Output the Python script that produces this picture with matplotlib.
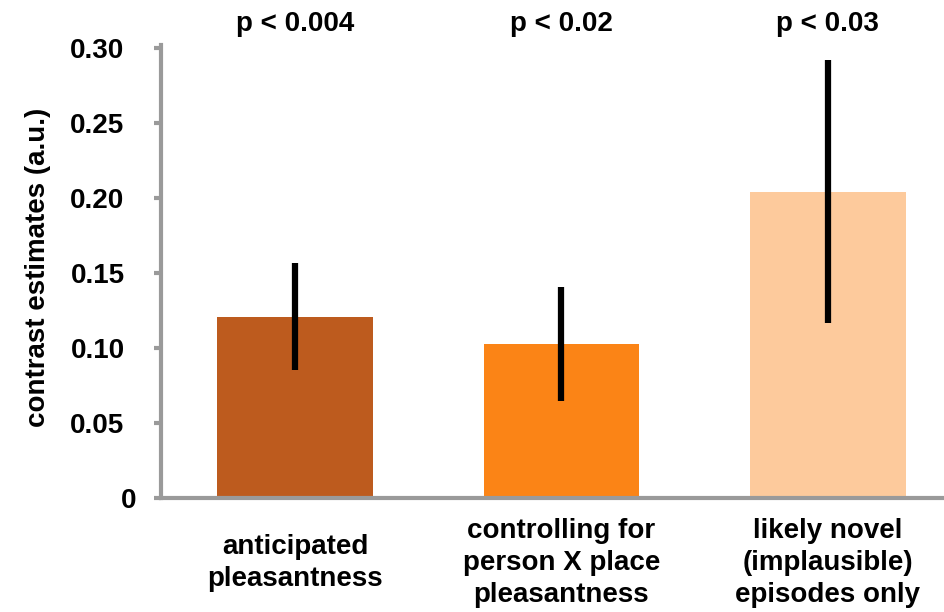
import matplotlib
matplotlib.use("Agg")
import matplotlib.pyplot as plt
import matplotlib.transforms as mtransforms
import numpy as np

# values
categories = ["anticipated\npleasantness",
              "controlling for\nperson X place\npleasantness",
              "likely novel\n(implausible)\nepisodes only"]
means = [0.1205, 0.1030, 0.2040]
err_low = [0.0855, 0.0650, 0.1165]
err_high = [0.1570, 0.1410, 0.2920]
p_labels = ["p < 0.004", "p < 0.02", "p < 0.03"]
bar_colors = ["#bd5b1e", "#fb8416", "#fdca9c"]
yticks = [0, 0.05, 0.10, 0.15, 0.20, 0.25, 0.30]
ytick_labels = ["0", "0.05", "0.10", "0.15", "0.20", "0.25", "0.30"]

plt.rcParams['font.family'] = ['Liberation Sans', 'DejaVu Sans']
plt.rcParams['font.weight'] = 'bold'
fs = 20

fig = plt.figure(figsize=(9.45, 6.12), dpi=100)
ax = fig.add_axes([0.170, 0.186, 0.830, 0.740])

x = np.arange(len(categories))
ax.bar(x, means, width=0.585, color=bar_colors, zorder=2)
for xi, lo, hi in zip(x, err_low, err_high):
    ax.vlines(xi, lo, hi, color='black', linewidth=4.5, zorder=3)

ax.set_xlim(-0.505, 2.44)
ax.set_ylim(0, 0.302)

grey = "#9a9a9a"
for side in ['top', 'right']:
    ax.spines[side].set_visible(False)
for side in ['left', 'bottom']:
    ax.spines[side].set_color(grey)
    ax.spines[side].set_linewidth(3)

ax.set_yticks(yticks)
ax.set_yticklabels(ytick_labels, fontsize=fs, fontweight='bold')
ax.tick_params(axis='y', colors=grey, length=5, width=3, direction='out', pad=21)
for lab in ax.get_yticklabels():
    lab.set_color('black')
# the "0" label sits a bit further right in the original
zero_lab = ax.yaxis.get_major_ticks()[0].label1
zero_lab.set_transform(zero_lab.get_transform() +
                       mtransforms.ScaledTranslation(12 / 100, 0, fig.dpi_scale_trans))

# category labels, centred vertically below the bars
ax.set_xticks(x)
ax.set_xticklabels([])
ax.tick_params(axis='x', length=0)
for xi, cat in zip(x, categories):
    ax.text(xi, -0.143, cat, transform=ax.get_xaxis_transform(), ha='center',
            va='center', fontsize=fs, fontweight='bold', linespacing=1.3)

ax.set_ylabel("contrast estimates (a.u.)", fontsize=fs, fontweight='bold')
ax.yaxis.set_label_coords(-0.140, 0.51)

for xi, p in zip(x, p_labels):
    ax.text(xi, 1.048, p, transform=ax.get_xaxis_transform(), ha='center',
            va='center', fontsize=fs, fontweight='bold')

fig.savefig("out.png", dpi=100)
